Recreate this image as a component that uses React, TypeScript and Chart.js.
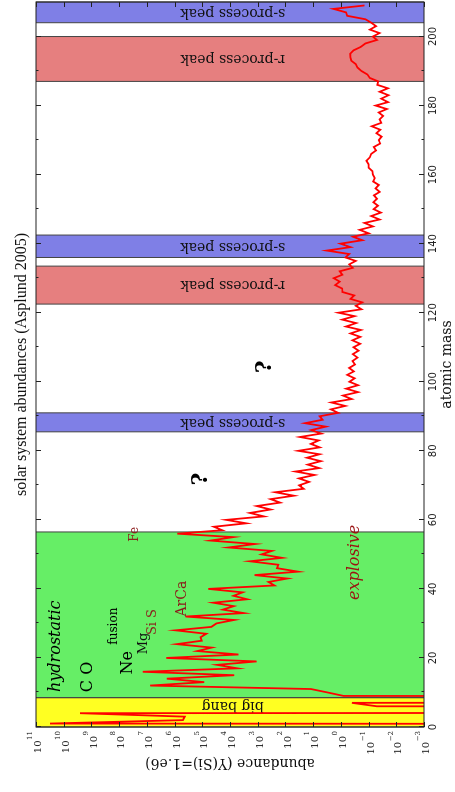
import React, { useEffect, useRef } from "react";
import { Chart, registerables } from "chart.js";

Chart.register(...registerables);

// Solar system abundance per mass number A (index = A), normalised to Si = 1e6
const abundanceLight = [
  0, 3.1e10, 5.0e5, 4.3e5, 2.6e9, 0, 0.05, 0.4, 0, 0.8,
  3, 12, 7.6e6, 8.5e4, 1.9e6, 7.0e3, 1.4e7, 5.5e3, 2.9e4, 1.1e3,
  2.0e6, 5.0e3, 1.5e5, 4.6e4, 8.3e5, 1.05e5, 1.16e5, 7.2e4, 9.2e5, 4.7e4,
  3.1e4, 7.1e3, 4.0e5, 3.2e3, 1.8e4, 7.4e3, 4.0e4, 2.4e3, 7.5e3, 3.5e3,
  6.1e4, 250, 410, 86, 1.3e3, 35, 200, 180, 1.9e3, 134,
  716, 309, 1.13e4, 1.28e3, 5.1e4, 7.6e3, 8.0e5, 1.9e4, 3.8e4, 2.6e3,
];
const abundanceMiddle = [
  1.36e4, 600, 1.9e3, 345, 1.08e3, 155, 340, 50, 230, 22,
  32, 14, 32, 9, 43, 6.1, 15.6, 5.3, 16.6, 5.9,
  34, 5.8, 12, 6.3, 30, 5.1, 11.7, 3.5, 19.6, 4.6,
  5.8, 1.25, 2.3, 0.7, 2.2, 0.41, 0.84, 0.24, 0.64, 0.24,
  0.49, 0.32, 0.59, 0.34, 0.5, 0.31, 0.38, 0.25, 0.37, 0.23,
  0.35, 0.2, 0.38, 0.2, 0.45, 0.19, 0.65, 0.28, 0.89, 0.32,
];
const abundanceHeavy = [
  1.22, 0.18, 0.29, 0.17, 0.45, 0.33, 0.88, 0.9, 1.6, 1.1,
  1.8, 0.89, 1.1, 0.37, 0.5, 0.29, 0.68, 0.5, 3.2, 0.45,
  1.03, 0.17, 0.36, 0.1, 0.21, 0.07, 0.14, 0.04, 0.08, 0.036,
  0.066, 0.046, 0.067, 0.05, 0.064, 0.04, 0.056, 0.043, 0.068, 0.06,
  0.07, 0.073, 0.1, 0.1, 0.12, 0.09, 0.08, 0.054, 0.065, 0.038,
  0.043, 0.034, 0.052, 0.038, 0.077, 0.035, 0.04, 0.03, 0.043, 0.022,
  0.055, 0.02, 0.035, 0.019, 0.04, 0.02, 0.048, 0.045, 0.09, 0.11,
  0.18, 0.25, 0.29, 0.42, 0.45, 0.46, 0.35, 0.19, 0.13, 0.05,
  0.07, 0.04, 0.09, 0.054, 0.08, 0.13, 0.59, 0.65, 1.85, 0.14,
];

const massMajorTicks = [0, 20, 40, 60, 80, 100, 120, 140, 160, 180, 200];
const massMinorTicks = [10, 30, 50, 70, 90, 110, 130, 150, 170, 190];
const abundanceTickExponents = [11, 10, 9, 8, 7, 6, 5, 4, 3, 2, 1, 0, -1, -2, -3];

// shaded nucleosynthesis regions (atomic mass ranges)
const bandStarts = [0, 8.5, 85.5, 122.5, 136, 187, 204];
const bandEnds = [8.5, 56.5, 91, 133.5, 142.5, 200, 210];
const bandLabels = ["big bang", "", "s-process peak", "r-process peak", "s-process peak", "r-process peak", "s-process peak"];
const bandLabelMasses = [6.3, 30, 88.25, 128, 139.25, 193.5, 207];
const bandLabelAbundance = 8e3;

// annotations (data coordinates)
const noteTexts = ["hydrostatic", "C O", "Ne", "fusion", "Mg", "Si S", "ArCa", "Fe", "explosive", "?", "?"];
const noteMasses = [23.4, 14.5, 18.6, 29.2, 24.2, 30.4, 37.2, 55.8, 47.7, 104.3, 71.8];
const noteAbundances = [2.0e10, 1.38e9, 5.0e7, 1.5e8, 1.26e7, 6.0e6, 5.1e5, 2.7e7, 0.32, 550, 1.12e5];

const titleText = "solar system abundances (Asplund 2005)";
const xTitle = "atomic mass";
const yTitle = "abundance (Y(Si)=1.e6)";

// styles
const SERIF = '"DejaVu Serif", serif';
const TIMES = '"Liberation Serif", serif';
const SANS = '"DejaVu Sans", sans-serif';
const bandColors = ["#ffff22", "#66ee66", "#7f7fe6", "#e67f7f", "#7f7fe6", "#e67f7f", "#7f7fe6"];
const DARKRED = "#8b1a1a";
const noteFonts = [
  `italic 16px ${SERIF}`, `16px ${SERIF}`, `16px ${SERIF}`, `12px ${SERIF}`, `13px ${SERIF}`,
  `13px ${SERIF}`, `14px ${SERIF}`, `12px ${SERIF}`, `italic 16px ${SERIF}`, `bold 22px ${SERIF}`, `bold 22px ${SERIF}`,
];
const noteColors = ["#000", "#000", "#000", "#000", "#111", DARKRED, DARKRED, DARKRED, "#9b1212", "#000", "#000"];

const decorPlugin = {
  id: "decor",
  beforeDraw(chart: any) {
    const { ctx } = chart;
    ctx.save();
    ctx.fillStyle = "#ffffff";
    ctx.fillRect(0, 0, chart.width, chart.height);
    ctx.restore();
  },
  beforeDatasetsDraw(chart: any) {
    const { ctx, chartArea: ca, scales } = chart;
    const xs = scales.x;
    const ys = scales.y;
    ctx.save();
    for (let i = 0; i < bandStarts.length; i++) {
      const x0 = xs.getPixelForValue(bandStarts[i]);
      const x1 = xs.getPixelForValue(bandEnds[i]);
      ctx.fillStyle = bandColors[i];
      ctx.fillRect(x0, ca.top, x1 - x0, ca.bottom - ca.top);
    }
    ctx.strokeStyle = "#444";
    ctx.lineWidth = 1;
    for (let i = 0; i < bandStarts.length; i++) {
      const x0 = xs.getPixelForValue(bandStarts[i]);
      const x1 = xs.getPixelForValue(bandEnds[i]);
      ctx.beginPath();
      ctx.moveTo(x0, ca.top);
      ctx.lineTo(x0, ca.bottom);
      ctx.moveTo(x1, ca.top);
      ctx.lineTo(x1, ca.bottom);
      ctx.stroke();
    }
    ctx.fillStyle = "#111";
    ctx.font = `14px ${SERIF}`;
    ctx.textAlign = "center";
    ctx.textBaseline = "middle";
    for (let i = 0; i < bandLabels.length; i++) {
      if (!bandLabels[i]) continue;
      ctx.save();
      ctx.translate(xs.getPixelForValue(bandLabelMasses[i]), ys.getPixelForValue(bandLabelAbundance));
      ctx.rotate(-Math.PI / 2);
      ctx.fillText(bandLabels[i], 0, 0);
      ctx.restore();
    }
    ctx.restore();
  },
  afterDatasetsDraw(chart: any) {
    const { ctx, chartArea: ca, scales } = chart;
    const xs = scales.x;
    const ys = scales.y;
    ctx.save();
    // annotations
    ctx.textAlign = "center";
    ctx.textBaseline = "middle";
    for (let i = 0; i < noteTexts.length; i++) {
      ctx.font = noteFonts[i];
      ctx.fillStyle = noteColors[i];
      ctx.fillText(noteTexts[i], xs.getPixelForValue(noteMasses[i]), ys.getPixelForValue(noteAbundances[i]));
    }
    // frame
    ctx.strokeStyle = "#222";
    ctx.lineWidth = 1;
    ctx.strokeRect(ca.left, ca.top, ca.right - ca.left, ca.bottom - ca.top);
    // mass ticks (inward, both sides)
    ctx.beginPath();
    const tickM = (m: number, len: number) => {
      const px = Math.round(xs.getPixelForValue(m)) + 0.5;
      ctx.moveTo(px, ca.bottom);
      ctx.lineTo(px, ca.bottom - len);
      ctx.moveTo(px, ca.top);
      ctx.lineTo(px, ca.top + len);
    };
    massMajorTicks.forEach((m) => tickM(m, 5));
    massMinorTicks.forEach((m) => tickM(m, 2.5));
    abundanceTickExponents.forEach((e) => {
      const py = Math.round(ys.getPixelForValue(Math.pow(10, e))) + 0.5;
      ctx.moveTo(ca.left, py);
      ctx.lineTo(ca.left + 5, py);
      ctx.moveTo(ca.right, py);
      ctx.lineTo(ca.right - 5, py);
    });
    ctx.stroke();
    // mass tick labels
    ctx.fillStyle = "#222";
    ctx.font = `10px ${SANS}`;
    ctx.textAlign = "center";
    ctx.textBaseline = "middle";
    massMajorTicks.forEach((m) => {
      ctx.fillText(String(m), xs.getPixelForValue(m), ca.bottom + 9);
    });
    // abundance tick labels 10^n
    abundanceTickExponents.forEach((e) => {
      const py = ys.getPixelForValue(Math.pow(10, e));
      const expStr = e < 0 ? "\u2212" + Math.abs(e) : String(e);
      ctx.font = `7px ${SERIF}`;
      const ew = ctx.measureText(expStr).width;
      ctx.textAlign = "right";
      ctx.fillText(expStr, ca.left - 4, py - 5.5);
      ctx.font = `10px ${SERIF}`;
      ctx.fillText("10", ca.left - 4 - ew - 0.5, py + 2.5);
    });
    // axis titles
    ctx.fillStyle = "#111";
    ctx.textAlign = "center";
    ctx.font = `14px ${SERIF}`;
    ctx.fillText(xTitle, (ca.left + ca.right) / 2, ca.bottom + 23);
    ctx.save();
    ctx.translate(29, (ca.top + ca.bottom) / 2);
    ctx.rotate(-Math.PI / 2);
    ctx.fillText(yTitle, 0, 0);
    ctx.restore();
    ctx.font = `16px ${TIMES}`;
    ctx.fillText(titleText, (ca.left + ca.right) / 2, 22);
    ctx.restore();
  },
};

export default function App() {
  const ref = useRef<HTMLCanvasElement>(null);
  useEffect(() => {
    document.body.style.margin = "0";
    const canvas = ref.current;
    if (!canvas) return;
    const abundance = [...abundanceLight, ...abundanceMiddle, ...abundanceHeavy];
    const points = abundance.map((v, a) => ({ x: a, y: v > 0 ? v : 1e-200 }));
    const chart = new Chart(canvas, {
      type: "scatter",
      data: {
        datasets: [
          {
            data: points,
            showLine: true,
            borderColor: "#ff0000",
            backgroundColor: "#ff0000",
            borderWidth: 1.8,
            pointRadius: 0,
            pointHoverRadius: 0,
            fill: false,
            tension: 0,
          },
        ],
      },
      options: {
        responsive: false,
        animation: false,
        devicePixelRatio: 1,
        events: [],
        layout: { padding: { left: 65, right: 2, top: 36, bottom: 31 } },
        plugins: { legend: { display: false }, tooltip: { enabled: false }, title: { display: false } },
        scales: {
          x: { type: "linear", min: 0, max: 210, display: false },
          y: { type: "logarithmic", min: 1e-3, max: 1e11, display: false },
        },
      },
      plugins: [decorPlugin],
    } as any);
    return () => chart.destroy();
  }, []);
  return (
    <div style={{ position: "absolute", left: 0, top: 0, width: 455, height: 792, overflow: "hidden", background: "#fff" }}>
      <canvas
        ref={ref}
        width={792}
        height={455}
        style={{
          position: "absolute",
          left: 0,
          top: 0,
          width: 792,
          height: 455,
          transformOrigin: "0 0",
          transform: "translateY(792px) rotate(-90deg)",
        }}
      />
    </div>
  );
}
